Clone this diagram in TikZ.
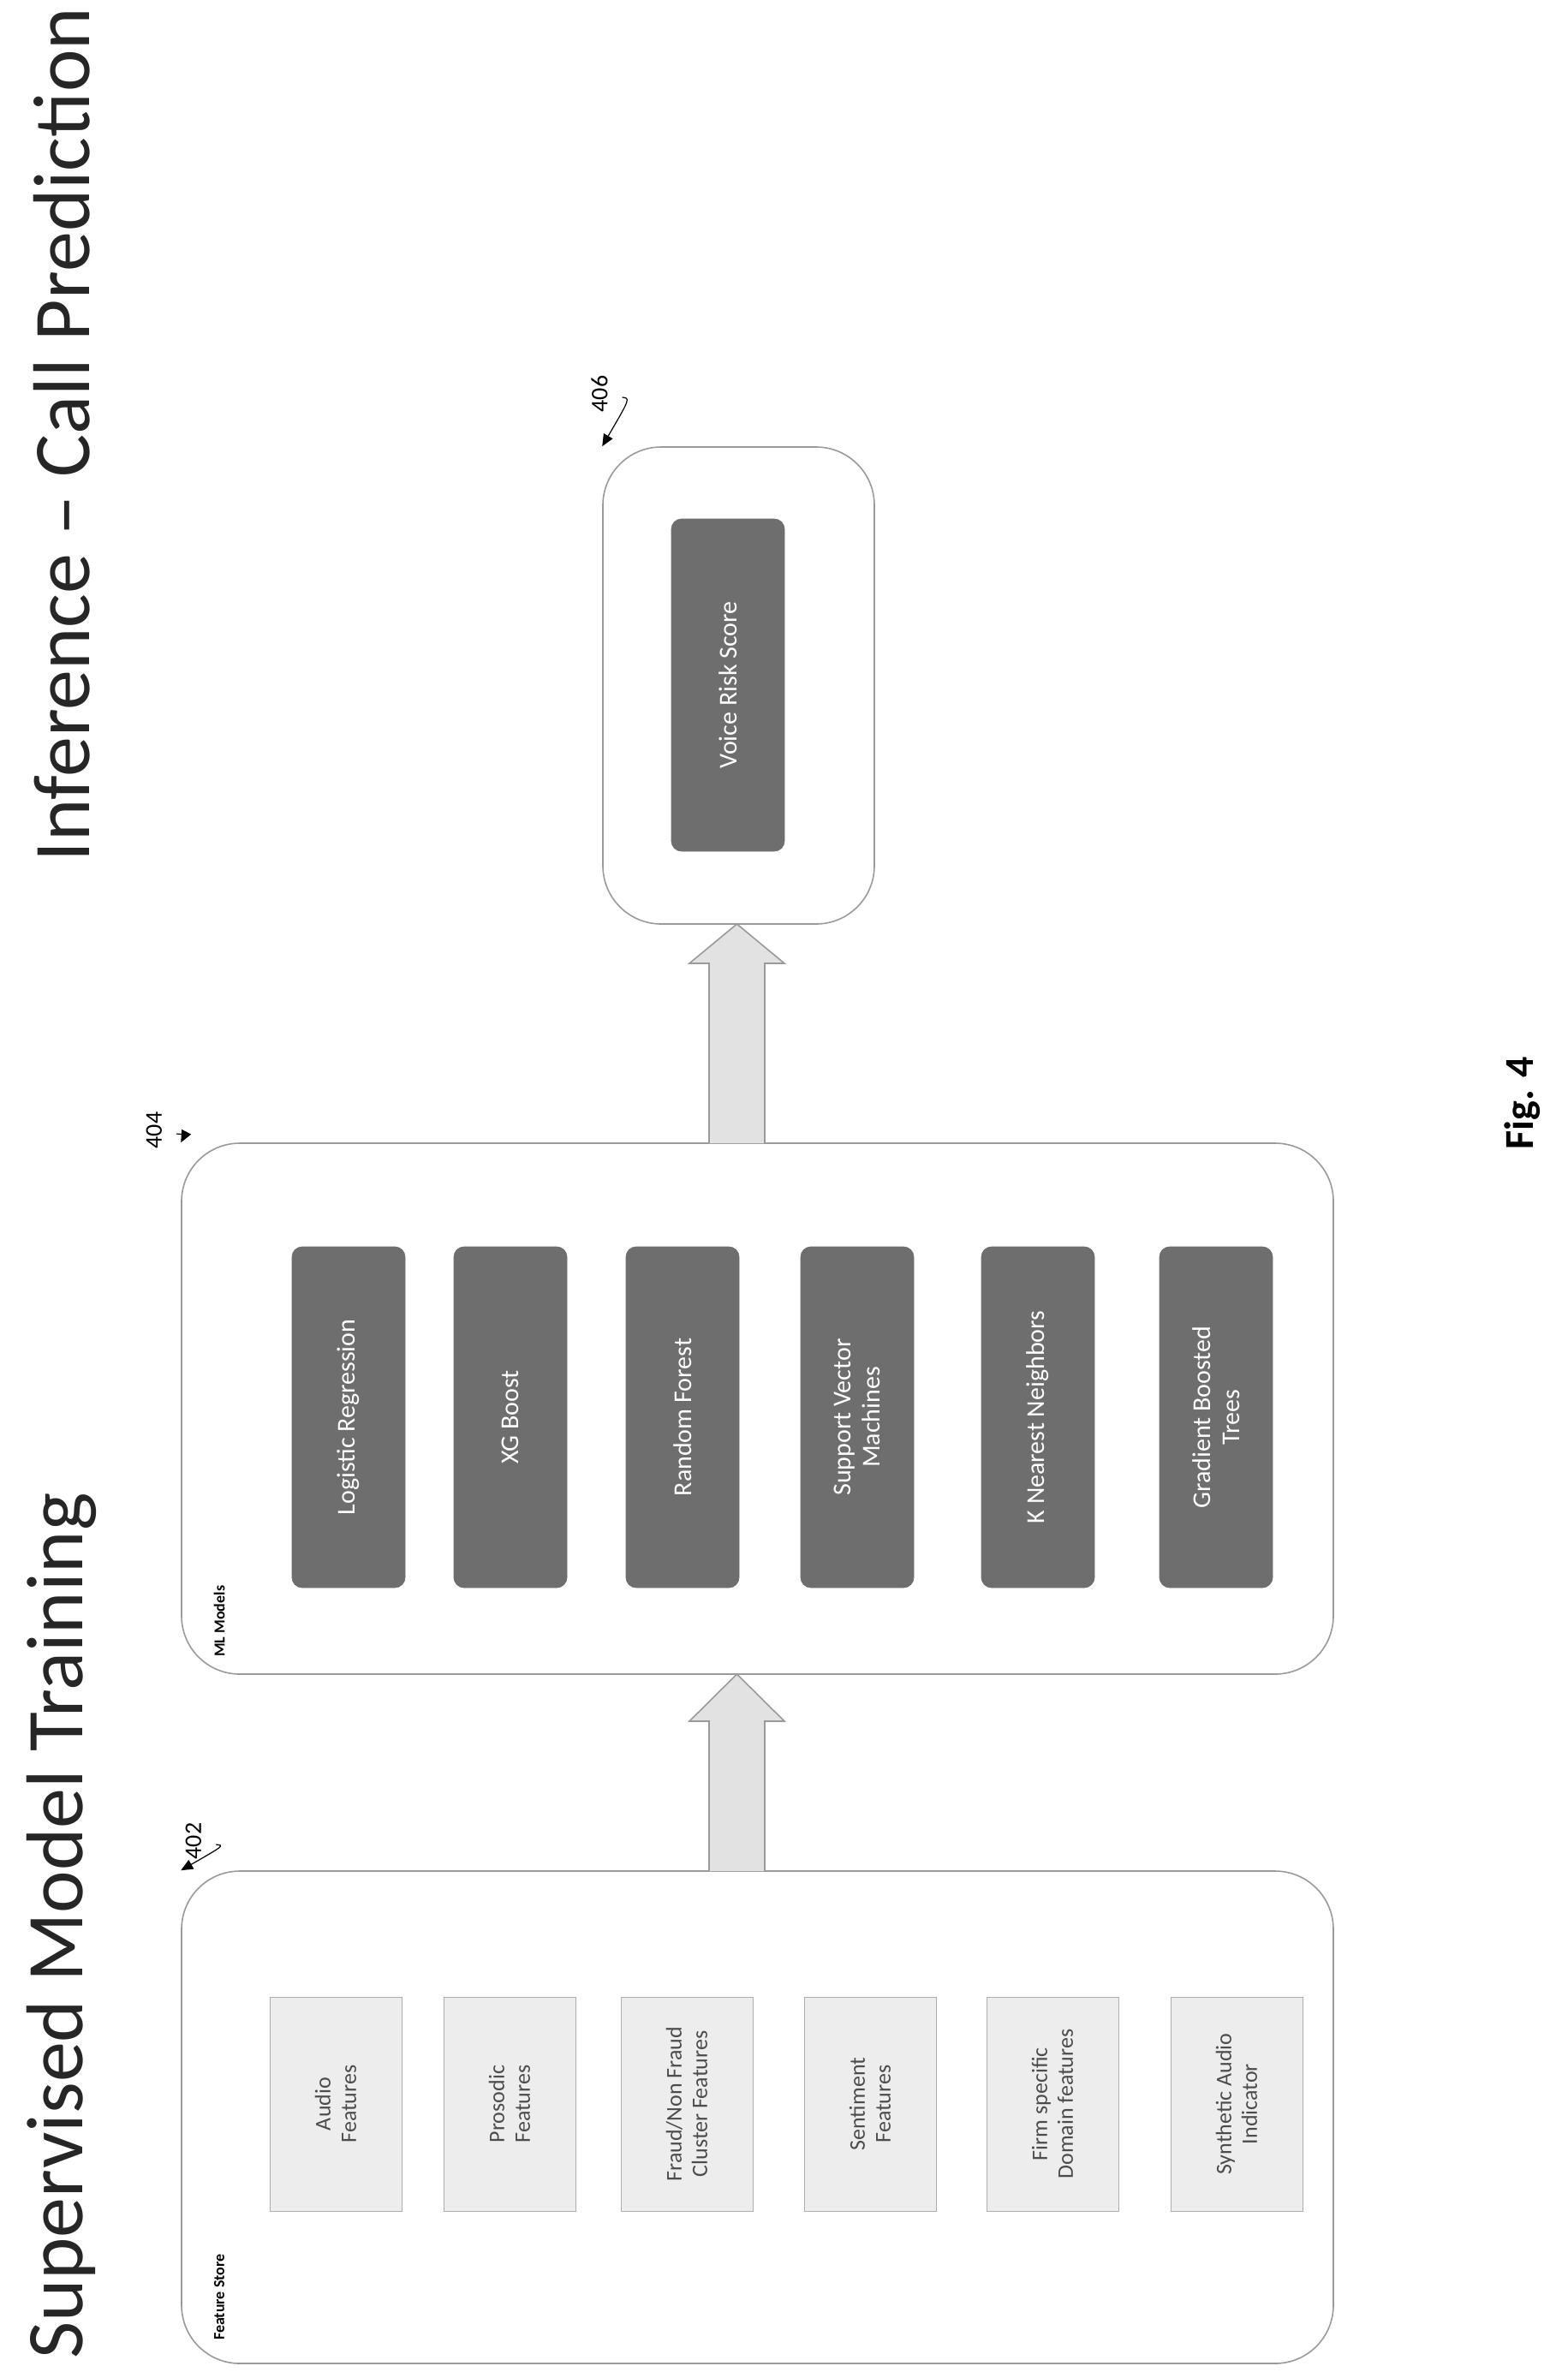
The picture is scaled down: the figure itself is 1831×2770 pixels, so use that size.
\documentclass[tikz,border=0pt]{standalone}
\usepackage{fontspec}
\setmainfont{Carlito}
\usetikzlibrary{arrows.meta}
\definecolor{edge}{HTML}{9A9A9A}
\definecolor{lightf}{HTML}{EDEDED}
\definecolor{darkf}{HTML}{6E6E6E}
\definecolor{arrowf}{HTML}{E2E2E2}
\begin{document}
\begin{tikzpicture}[x=0.5pt,y=-0.5pt,
  container/.style={draw=edge,line width=0.8pt,rounded corners=34pt,rotate=90,inner sep=0pt},
  feat/.style={draw=edge!80,fill=lightf,line width=0.5pt,rotate=90,minimum width=125pt,minimum height=77pt,align=center,text=black!70,font=\fontsize{13}{15}\selectfont,inner sep=1pt},
  model/.style={draw=darkf,fill=darkf,rounded corners=6pt,rotate=90,minimum width=199pt,minimum height=66pt,align=center,text=white,font=\fontsize{15}{17}\selectfont,inner sep=1pt},
  blockarrow/.style={draw=edge,fill=arrowf,line width=0.8pt},
  ref/.style={font=\fontsize{14}{16}\selectfont,rotate=90},
  refarrow/.style={-{Triangle[length=7pt,width=6pt]},line width=0.6pt},
  title/.style={font=\fontsize{47}{50}\selectfont\addfontfeature{FakeBold=0},rotate=90,text=black!85}]
\useasboundingbox (0,0) rectangle (1831,2770);
% titles
\node[title,anchor=west] (t1) at (72,2762) {Supervised Model Training};
\node[title,anchor=east] (t2) at (72,2) {Inference -- Call Prediction};
\node[font=\fontsize{24}{26}\selectfont\bfseries,rotate=90] (fig) at (1778,1288) {Fig. 4};
% containers
\node[container,minimum width=287.5pt,minimum height=672.5pt] (c402) at (884.5,2472.5) {};
\node[container,minimum width=310pt,minimum height=672.5pt] (c404) at (884.5,1645) {};
\node[container,minimum width=278.5pt,minimum height=158.5pt] (c406) at (862.5,800.5) {};
% header labels
\node[font=\fontsize{9}{10}\selectfont\bfseries,rotate=90,anchor=west] (fs) at (256,2740) {Feature Store};
\node[font=\fontsize{9}{10}\selectfont\bfseries,rotate=90,anchor=west] (mlm) at (256,1942) {ML Models};
% features
\node[feat] (f1) at (392,2457) {Audio\\Features};
\node[feat] (f2) at (595,2457) {Prosodic\\Features};
\node[feat] (f3) at (802,2457) {Fraud/Non Fraud\\Cluster Features};
\node[feat] (f4) at (1016,2457) {Sentiment\\Features};
\node[feat] (f5) at (1229,2457) {Firm specific\\Domain features};
\node[feat] (f6) at (1444,2457) {Synthetic Audio\\Indicator};
% models
\node[model] (m1) at (407,1655) {Logistic Regression};
\node[model] (m2) at (596,1655) {XG Boost};
\node[model] (m3) at (797,1655) {Random Forest};
\node[model] (m4) at (1001,1655) {Support Vector\\Machines};
\node[model] (m5) at (1212,1655) {K Nearest Neighbors};
\node[model] (m6) at (1420,1655) {Gradient Boosted\\Trees};
\node[model,minimum width=194pt] (v) at (850,800) {Voice Risk Score};
% block arrows
\draw[blockarrow] (828,2185) -- (828,2010) -- (805,2010) -- (860.5,1955) -- (916,2010) -- (893,2010) -- (893,2185);
\draw[blockarrow] (828,1335) -- (828,1125) -- (805,1125) -- (860.5,1079) -- (916,1125) -- (893,1125) -- (893,1335);
% reference labels
\node[ref] (r402) at (226,2150) {402};
\draw[refarrow] (r402.south) ++(10,4) coordinate (a402) .. controls (262,2155) .. (c402.north east);
\node[ref] (r404) at (180,1320) {404};
\draw[refarrow] (r404.south) ++(10,4) coordinate (a404) .. controls (216,1325) .. (c404.north east);
\node[ref] (r406) at (700,460) {406};
\draw[refarrow] (r406.south) ++(10,4) coordinate (a406) .. controls (736,465) .. (c406.north east);
\end{tikzpicture}
\end{document}
